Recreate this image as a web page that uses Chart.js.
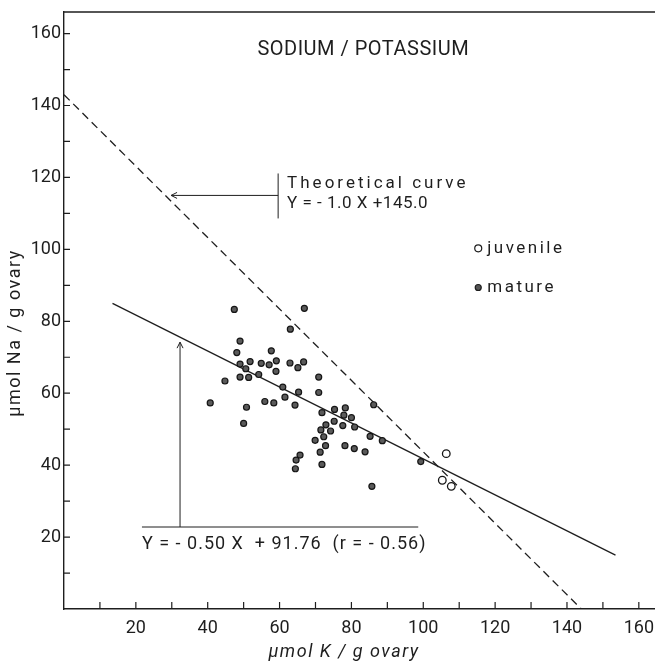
<!DOCTYPE html>
<html>
<head>
<meta charset="utf-8">
<script src="https://cdn.jsdelivr.net/npm/chart.js@4.4.1/dist/chart.umd.min.js"></script>
<style>
  html, body { margin: 0; padding: 0; background: #fff; }
</style>
</head>
<body>
<canvas id="naKChart" width="655" height="664"></canvas>
<script>
// values (umol / g ovary)
const matureK = [47.4, 66.9, 63.0, 49.0, 48.1, 57.7, 49.0, 51.8, 50.6, 54.9,
                 57.1, 59.1, 59.0, 62.9, 65.1, 66.7, 49.0, 51.4, 54.2, 44.8,
                 70.9, 60.9, 65.3, 70.9, 61.5, 40.7, 50.8, 55.9, 58.4, 64.3,
                 50.0, 71.8, 75.3, 78.3, 77.9, 80.0, 75.2, 72.9, 77.6, 80.9,
                 71.5, 74.2, 72.3, 69.9, 72.8, 78.2, 80.8, 71.3, 83.8, 71.8,
                 65.7, 64.6, 64.4, 86.2, 85.2, 88.6, 85.7, 99.3];
const matureNa = [83.3, 83.6, 77.8, 74.5, 71.3, 71.8, 68.1, 68.8, 66.8, 68.3,
                  67.9, 69.0, 66.1, 68.4, 67.1, 68.7, 64.5, 64.4, 65.2, 63.4,
                  64.5, 61.7, 60.3, 60.2, 58.9, 57.3, 56.1, 57.7, 57.3, 56.7,
                  51.6, 54.6, 55.5, 55.9, 53.9, 53.2, 52.2, 51.2, 51.0, 50.6,
                  49.8, 49.5, 47.9, 46.9, 45.4, 45.4, 44.6, 43.6, 43.7, 40.2,
                  42.8, 41.4, 39.0, 56.8, 48.0, 46.8, 34.1, 41.0];
const juvenileK = [106.4, 105.3, 107.8];
const juvenileNa = [43.2, 35.8, 34.1];

// regression line Y = -0.50 X + 91.76 and theoretical line, end points as drawn
const fitK = [13.5, 153.5];
const fitNa = [85.0, 15.0];
const theoryK = [0, 144];
const theoryNa = [143, 0];

const xTicks = [20, 40, 60, 80, 100, 120, 140, 160];
const yTicks = [20, 40, 60, 80, 100, 120, 140, 160];
const minorTicks = [10, 20, 30, 40, 50, 60, 70, 80, 90, 100, 110, 120, 130, 140, 150, 160];

const ink = '#1e1e1e';
const fontFamily = 'Roboto, "Liberation Sans", sans-serif';

function pts(xs, ys) {
    return xs.map((x, i) => ({ x: x, y: ys[i] }));
}

function text(ctx, str, x, y, size, spacing, align, rotate, style) {
    ctx.save();
    ctx.font = (style || '') + ' ' + size + 'px ' + fontFamily;
    ctx.letterSpacing = spacing + 'px';
    ctx.fillStyle = ink;
    ctx.textAlign = align || 'left';
    ctx.textBaseline = 'middle';
    ctx.translate(x, y);
    if (rotate) ctx.rotate(rotate);
    ctx.fillText(str, 0, 0);
    ctx.restore();
}

const figureExtras = {
    id: 'figureExtras',
    afterDraw(chart) {
        const ctx = chart.ctx;
        const xs = chart.scales.x;
        const ys = chart.scales.y;
        const area = chart.chartArea;
        const X = v => xs.getPixelForValue(v);
        const Y = v => ys.getPixelForValue(v);

        ctx.save();
        ctx.strokeStyle = ink;
        ctx.lineWidth = 1.4;

        // top frame
        ctx.beginPath();
        ctx.moveTo(area.left, area.top);
        ctx.lineTo(area.right, area.top);
        ctx.stroke();

        // inward tick marks
        ctx.lineWidth = 1.2;
        minorTicks.forEach(v => {
            ctx.beginPath();
            ctx.moveTo(X(v), area.bottom);
            ctx.lineTo(X(v), area.bottom - 7);
            ctx.moveTo(area.left, Y(v));
            ctx.lineTo(area.left + 6, Y(v));
            ctx.stroke();
        });

        // theoretical curve label with arrow
        ctx.lineWidth = 1;
        ctx.beginPath();
        ctx.moveTo(X(59.6), Y(121.1));
        ctx.lineTo(X(59.6), Y(108.6));
        ctx.moveTo(X(59.6), Y(115));
        ctx.lineTo(X(29.8), Y(115));
        ctx.moveTo(X(29.8) + 6, Y(115) - 3);
        ctx.lineTo(X(29.8), Y(115));
        ctx.lineTo(X(29.8) + 6, Y(115) + 3);
        ctx.stroke();

        // regression label with arrow
        ctx.beginPath();
        ctx.moveTo(X(21.7), Y(22.8));
        ctx.lineTo(X(98.6), Y(22.8));
        ctx.moveTo(X(32.3), Y(22.8));
        ctx.lineTo(X(32.3), Y(74.2));
        ctx.moveTo(X(32.3) - 3, Y(74.2) + 6);
        ctx.lineTo(X(32.3), Y(74.2));
        ctx.lineTo(X(32.3) + 3, Y(74.2) + 6);
        ctx.stroke();

        // legend symbols
        ctx.lineWidth = 1.2;
        ctx.beginPath();
        ctx.arc(X(115.3), Y(100.3), 3.5, 0, Math.PI * 2);
        ctx.fillStyle = '#fff';
        ctx.fill();
        ctx.stroke();
        ctx.beginPath();
        ctx.arc(X(115.3), Y(89.4), 3, 0, Math.PI * 2);
        ctx.fillStyle = '#555';
        ctx.fill();
        ctx.stroke();
        ctx.restore();

        text(ctx, 'SODIUM / POTASSIUM', X(83.3), Y(155.3), 20, 0.5, 'center');
        text(ctx, 'Theoretical curve', X(62.1), Y(118.3), 17, 3, 'left');
        text(ctx, 'Y = - 1.0 X +145.0', X(62.1), Y(112.8), 17, 0.5, 'left');
        text(ctx, 'juvenile', X(117.8), Y(100.3), 17, 2.5, 'left');
        text(ctx, 'mature', X(117.8), Y(89.4), 17, 2.5, 'left');
        text(ctx, 'Y = - 0.50 X  + 91.76  (r = - 0.56)', X(21.7), Y(17.8), 18, 1, 'left');

        // axis titles
        text(ctx, 'µmol K / g ovary', 344, 652, 18, 1.5, 'center', 0, 'italic');
        text(ctx, 'µmol Na / g ovary', 15, 333, 18, 1.5, 'center', -Math.PI / 2);
    }
};

new Chart(document.getElementById('naKChart'), {
    type: 'scatter',
    data: {
        datasets: [
            {
                label: 'mature',
                data: pts(matureK, matureNa),
                pointRadius: 3,
                pointBackgroundColor: '#5a5a5a',
                pointBorderColor: '#151515',
                pointBorderWidth: 1.2
            },
            {
                label: 'juvenile',
                data: pts(juvenileK, juvenileNa),
                pointRadius: 3.8,
                pointBackgroundColor: '#fff',
                pointBorderColor: '#151515',
                pointBorderWidth: 1.3
            },
            {
                type: 'line',
                label: 'regression',
                data: pts(fitK, fitNa),
                borderColor: ink,
                borderWidth: 1.3,
                pointRadius: 0,
                fill: false
            },
            {
                type: 'line',
                label: 'theoretical',
                data: pts(theoryK, theoryNa),
                borderColor: ink,
                borderWidth: 1.3,
                borderDash: [8, 5],
                pointRadius: 0,
                fill: false
            }
        ]
    },
    options: {
        responsive: false,
        animation: false,
        layout: { autoPadding: false, padding: { top: 12, right: 0, left: 0, bottom: 0 } },
        plugins: {
            legend: { display: false },
            tooltip: { enabled: false }
        },
        scales: {
            x: {
                type: 'linear',
                min: 0,
                max: 164.5,
                afterBuildTicks: s => { s.ticks = xTicks.map(v => ({ value: v })); },
                afterFit: s => { s.height = 55; s.paddingRight = 0; s.paddingLeft = 0; },
                grid: { display: false, drawTicks: false },
                border: { display: true, color: ink, width: 1.4 },
                ticks: { color: ink, padding: 9, maxRotation: 0, font: { family: fontFamily, size: 18 } }
            },
            y: {
                type: 'linear',
                min: 0,
                max: 166,
                afterBuildTicks: s => { s.ticks = yTicks.map(v => ({ value: v })); },
                afterFit: s => { s.width = 64; s.paddingTop = 0; s.paddingBottom = 0; },
                grid: { display: false, drawTicks: false },
                border: { display: true, color: ink, width: 1.4 },
                ticks: { color: ink, padding: 3, font: { family: fontFamily, size: 18 } }
            }
        }
    },
    plugins: [figureExtras]
});
</script>
</body>
</html>
